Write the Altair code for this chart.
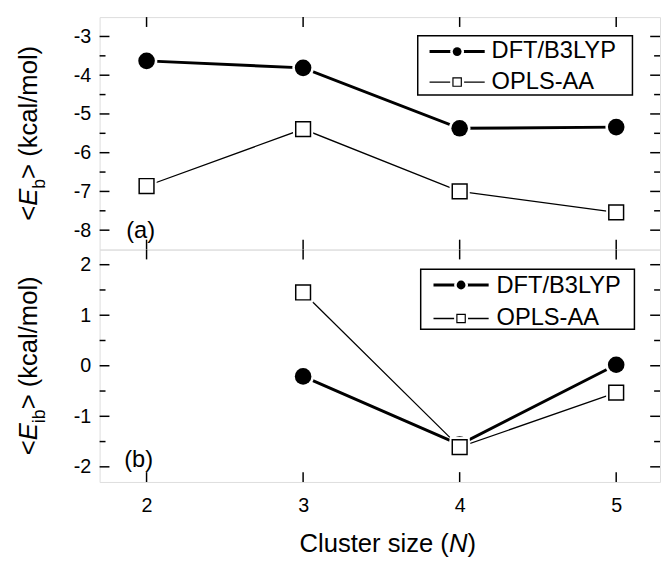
import altair as alt
import pandas as pd

# ---------------- data ----------------
series = ["DFT/B3LYP", "OPLS-AA"]

N_a = [2, 3, 4, 5]
dft_a = [-3.63, -3.81, -5.37, -5.34]
opls_a = [-6.86, -5.39, -7.00, -7.54]

N_b = [3, 4, 5]
dft_b = [-0.21, -1.56, 0.02]
opls_b = [1.45, -1.61, -0.53]

x_ticks = [2, 3, 4, 5]
ya_major = [-8, -7, -6, -5, -4, -3]
ya_minor = [-7.5, -6.5, -5.5, -4.5, -3.5]
yb_major = [-2, -1, 0, 1, 2]
yb_minor = [-1.5, -0.5, 0.5, 1.5]

x_domain = [1.7, 5.28]
ya_domain = [-8.5, -2.5]
yb_domain = [-2.3, 2.3]

panel_labels = ["(a)", "(b)"]
y_subscripts = ["b", "ib"]
x_title = ["Cluster size (", "N", ")"]

# ---------------- styling ----------------
FONT = "Liberation Sans"
W = 569
H_A = 236
H_B = 236
T_FS = 26      # title font size
SUB_FS = 18
TICK_FS = 20
LEG_FS = 24

# Arial / Liberation Sans advance widths (em)
CW = {'<': .584, '>': .584, 'E': .667, 'b': .556, 'i': .222, ' ': .278,
      '(': .333, ')': .333, 'k': .5, 'c': .5, 'a': .556, 'l': .222,
      '/': .278, 'm': .833, 'o': .556, 'N': .722, 'C': .722, 'u': .556,
      's': .5, 't': .278, 'e': .556, 'r': .333, 'z': .5}


def tw(s, fs):
    return sum(CW.get(ch, .556) for ch in s) * fs


one = alt.Data(values=[{"k": 0}])
xs = alt.Scale(domain=x_domain, nice=False, zero=False)


def text(s, x, y, fs, **kw):
    return alt.Chart(one).mark_text(font=FONT, fontSize=fs, color="black",
                                    align="left", baseline="alphabetic", **kw).encode(
        x=alt.value(x), y=alt.value(y), text=alt.value(s))


def rule_px(x, x2, y, y2, sw):
    return alt.Chart(one).mark_rule(color="black", strokeWidth=sw).encode(
        x=alt.value(x), x2=alt.value(x2), y=alt.value(y), y2=alt.value(y2))


def panel(Ns, dft, opls, ydom, major, minor, H, label, label_pos, sub,
          legend_geo, show_x_axis):
    ys = alt.Scale(domain=ydom, nice=False, zero=False)
    df = pd.DataFrame({
        "N": list(Ns) * 2,
        "v": list(dft) + list(opls),
        "s": [series[0]] * len(Ns) + [series[1]] * len(Ns),
    })
    xaxis = alt.Axis(values=x_ticks, labelFont=FONT, labelFontSize=TICK_FS,
                     labelColor="black", ticks=False, tickSize=0, domain=False,
                     grid=False, labelPadding=14, title=None,
                     labelOverlap=False, labelFlush=False,
                     labels=show_x_axis)
    yaxis = alt.Axis(values=major, labelFont=FONT, labelFontSize=TICK_FS,
                     labelColor="black", ticks=False, tickSize=0, domain=False,
                     grid=False, labelPadding=9, title=None, labelOverlap=False,
                     labelFlush=False, labelExpr="'' + datum.value")

    base = alt.Chart(df)
    X = alt.X("N:Q", scale=xs, axis=xaxis)
    Y = alt.Y("v:Q", scale=ys, axis=yaxis)

    layers = []
    layers.append(base.transform_filter(alt.datum.s == series[0]).mark_line(
        color="black", strokeWidth=3).encode(x=X, y=Y))
    layers.append(base.transform_filter(alt.datum.s == series[1]).mark_line(
        color="black", strokeWidth=1.3).encode(x=X, y=Y))
    layers.append(base.transform_filter(alt.datum.s == series[0]).mark_point(
        shape="circle", filled=True, color="white", opacity=1, size=480).encode(x=X, y=Y))
    layers.append(base.transform_filter(alt.datum.s == series[0]).mark_point(
        shape="circle", filled=True, color="black", opacity=1, size=283).encode(x=X, y=Y))
    layers.append(base.transform_filter(alt.datum.s == series[1]).mark_point(
        shape="square", filled=True, color="white", opacity=1, size=420).encode(x=X, y=Y))
    layers.append(base.transform_filter(alt.datum.s == series[1]).mark_point(
        shape="square", filled=True, fill="white", stroke="black", strokeWidth=1.5,
        opacity=1, size=225).encode(x=X, y=Y))

    # inward ticks on the frame
    xt = pd.DataFrame({"N": x_ticks})
    layers.append(alt.Chart(xt).mark_rule(color="black", strokeWidth=1.5).encode(
        x=X, y=alt.value(0), y2=alt.value(10)))
    layers.append(alt.Chart(xt).mark_rule(color="black", strokeWidth=1.5).encode(
        x=X, y=alt.value(H), y2=alt.value(H - 10)))
    for vals, L in ((major, 10), (minor, 6)):
        yt = pd.DataFrame({"v": vals})
        layers.append(alt.Chart(yt).mark_rule(color="black", strokeWidth=1.5).encode(
            y=Y, x=alt.value(0), x2=alt.value(L)))
        layers.append(alt.Chart(yt).mark_rule(color="black", strokeWidth=1.5).encode(
            y=Y, x=alt.value(W), x2=alt.value(W - L)))

    # panel label
    layers.append(text(label, label_pos[0], label_pos[1], 24))

    # y title built from pieces: <E_sub> (kcal/mol)
    pieces = [("<", T_FS, "normal", 0, 0), ("E", T_FS, "italic", 0, 0),
              (sub, SUB_FS, "normal", 9, 0), (">", T_FS, "normal", 0, 0),
              ("(kcal/mol)", T_FS, "normal", 0, tw(" ", T_FS))]
    total = sum(tw(p[0], p[1]) + p[4] for p in pieces)
    y0 = H / 2 + total / 2
    bx = -64
    cum = 0
    for s, fs, st, dx, pre in pieces:
        cum += pre
        layers.append(text(s, bx + dx, y0 - cum, fs, angle=270, fontStyle=st))
        cum += tw(s, fs)

    # legend
    (bx0, bx1, by0, by1, lx0, lx1, mx, r1, r2, tx, t1, t2) = legend_geo
    layers.append(alt.Chart(one).mark_rect(fill="white", stroke="black",
                                           strokeWidth=1.5).encode(
        x=alt.value(bx0), x2=alt.value(bx1), y=alt.value(by0), y2=alt.value(by1)))
    layers.append(rule_px(lx0, lx1, r1, r1, 3))
    layers.append(rule_px(lx0, lx1, r2, r2, 1.3))
    layers.append(alt.Chart(one).mark_point(shape="circle", filled=True, color="white",
                                            opacity=1, size=200).encode(
        x=alt.value(mx), y=alt.value(r1)))
    layers.append(alt.Chart(one).mark_point(shape="circle", filled=True, color="black",
                                            opacity=1, size=80).encode(
        x=alt.value(mx), y=alt.value(r1)))
    layers.append(alt.Chart(one).mark_point(shape="square", filled=True, color="white",
                                            opacity=1, size=200).encode(
        x=alt.value(mx), y=alt.value(r2)))
    layers.append(alt.Chart(one).mark_point(shape="square", filled=True, fill="white",
                                            stroke="black", strokeWidth=1.2,
                                            opacity=1, size=72).encode(
        x=alt.value(mx), y=alt.value(r2)))
    layers.append(text(series[0], tx, t1, LEG_FS))
    layers.append(text(series[1], tx, t2, LEG_FS))

    if show_x_axis:
        # x title: Cluster size (N) with italic N
        tx0 = 203
        tyb = 307
        cum = 0
        for s, st in zip(x_title, ["normal", "italic", "normal"]):
            layers.append(text(s, tx0 + cum, tyb, T_FS, fontStyle=st))
            cum += tw(s, T_FS)

    return alt.layer(*layers).properties(width=W, height=H)


top = panel(N_a, dft_a, opls_a, ya_domain, ya_major, ya_minor, H_A,
            panel_labels[0], (27, 224), y_subscripts[0],
            (323, 541, 19, 79, 335, 391, 363, 35, 66, 398, 42, 73), False)
bottom = panel(N_b, dft_b, opls_b, yb_domain, yb_major, yb_minor, H_B,
               panel_labels[1], (25, 221), y_subscripts[1],
               (326, 543, 20, 81, 339, 395, 367, 36, 70, 403, 44, 77), True)

chart = alt.vconcat(top, bottom, spacing=0, bounds="flush").properties(
    padding={"left": 7, "top": 3, "right": 0, "bottom": 0}
).configure_view(stroke="black", strokeWidth=2).configure(font=FONT)

chart.save("out.html", embed_options={"renderer": "svg", "actions": False})
